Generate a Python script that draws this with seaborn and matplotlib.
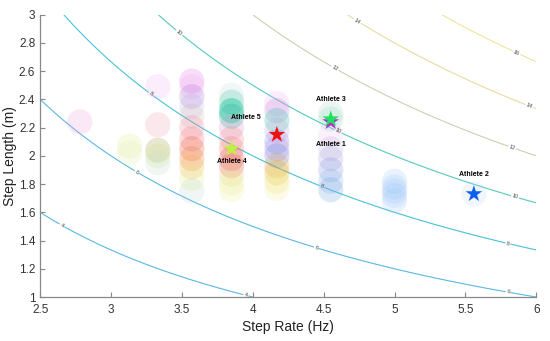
import numpy as np
import pandas as pd
import matplotlib.pyplot as plt
import matplotlib.colors as mcolors
import seaborn as sns

# iso-speed levels (m/s) and their line colours
speed_levels = [4, 6, 8, 10, 12, 14, 16]
level_colors = ['#5ab8e2', '#5ab8e2', '#45c3d8', '#55c9c0', '#c8d2b0', '#e8dba0', '#f2e49c']

# bubble columns: step rate -> step lengths and colours (rgba hex)
step_rates = [2.78, 3.13, 3.33, 3.57, 3.85, 4.17, 4.55, 5.0, 5.56]
step_lengths = [
    [2.24],
    [2.07, 2.02],
    [2.49, 2.22, 2.04, 2.00, 1.95],
    [2.53, 2.49, 2.42, 2.35, 2.28, 2.20, 2.12, 2.05, 1.98, 1.92, 1.84, 1.75],
    [2.43, 2.38, 2.32, 2.28, 2.20, 2.12, 2.05, 1.98, 1.93, 1.87, 1.81, 1.76],
    [2.37, 2.32, 2.25, 2.18, 2.10, 2.05, 2.00, 1.93, 1.88, 1.82, 1.77],
    [2.30, 2.26, 2.15, 2.05, 1.98, 1.90, 1.82, 1.76],
    [1.82, 1.78, 1.75, 1.72, 1.68],
    [1.73],
]
bubble_colors = [
    ['#f0a0e050'],
    ['#e8f0a060', '#e0f0b050'],
    ['#f0a0f040', '#f0a0b050', '#a0a04050', '#d0e08050', '#c0e0d050'],
    ['#e060e045', '#f0a0f040', '#a060d045', '#b0a0e040', '#d0b0a040', '#f080a050',
     '#f0707050', '#f0503055', '#f0803055', '#f0b04050', '#e0f08050', '#b0d0d040'],
    ['#a0d0c835', '#40c0a050', '#00c09080', '#20b0a060', '#e090c050', '#f0808050',
     '#f0707050', '#f0404055', '#e0504050', '#f0c08050', '#e0f08050', '#f0f0a050'],
    ['#f0b0f050', '#c080e050', '#20c0a055', '#c0a0e050', '#8080e050', '#b080e050',
     '#6080e050', '#e0a04050', '#e0b02055', '#f0e06050', '#f0f0a050'],
    ['#b0d8d050', '#60d0a035', '#f0b0f040', '#c0b0e050', '#a0a0e050', '#8090e050',
     '#80b0f050', '#70a8e055'],
    ['#90c0f840', '#90c0f840', '#90c0f840', '#90c0f840', '#90c0f840'],
    ['#b0d0f040'],
]

# athletes (stars)
athletes = ['Athlete 1', 'Athlete 3', 'Athlete 5', 'Athlete 4', 'Athlete 2']
athlete_rate = [4.55, 4.55, 4.17, 3.85, 5.56]
athlete_length = [2.24, 2.26, 2.15, 2.05, 1.73]
athlete_colors = ['#b030d0', '#20e060', '#f01010', '#c0f040', '#1060f0']
label_offsets = [(0, -16), (0, 14), (-22, 12), (0, -9), (0, 14)]

rows = []
for r, ls, cs in zip(step_rates, step_lengths, bubble_colors):
    for l, c in zip(ls, cs):
        rows.append({'rate': r, 'length': l, 'color': c})
bubbles = pd.DataFrame(rows)
stars = pd.DataFrame({'athlete': athletes, 'rate': athlete_rate, 'length': athlete_length})

sns.set_style('white')
plt.rcParams['font.family'] = ['Liberation Sans', 'DejaVu Sans']

fig = plt.figure(figsize=(5.5, 3.41), dpi=100)
ax = fig.add_axes([0.073, 0.129, 0.902, 0.828])

# iso-speed contours: speed = step rate * step length
gx = np.linspace(2.5, 6, 300)
gy = np.linspace(1, 3, 300)
GX, GY = np.meshgrid(gx, gy)
cs = ax.contour(GX, GY, GX * GY, levels=speed_levels, colors=level_colors, linewidths=0.8, zorder=1)
label_pos = [(2.65, 1.5), (3.95, 1.01), (3.18, 1.88), (4.45, 1.35), (5.8, 1.03),
             (3.28, 2.44), (4.49, 1.79), (5.8, 1.38), (3.48, 2.87), (4.6, 2.17),
             (5.85, 1.71), (4.58, 2.62), (5.83, 2.06), (4.74, 2.96), (5.95, 2.35),
             (5.86, 2.73)]
ax.clabel(cs, fmt='%d', fontsize=4, colors='#444444', inline=True, inline_spacing=1, manual=label_pos)

sns.scatterplot(data=bubbles, x='rate', y='length', s=330, linewidth=0, legend=False, ax=ax, zorder=2)
rgba = mcolors.to_rgba_array(bubbles['color'])
rgba[:, 3] *= 0.75
ax.collections[-1].set_facecolor(rgba)

sns.scatterplot(data=stars, x='rate', y='length', hue='athlete',
                palette=dict(zip(athletes, athlete_colors)), marker='*', s=160,
                linewidth=0, legend=False, ax=ax, zorder=3)

for name, r, l, off in zip(athletes, athlete_rate, athlete_length, label_offsets):
    ax.annotate(name, (r, l), xytext=off, textcoords='offset points', ha='center', va='center',
                fontsize=5, fontweight='bold', color='black', zorder=4)

ax.set_xlim(2.5, 6)
ax.set_ylim(1, 3)
ax.set_xticks(np.arange(2.5, 6.01, 0.5))
ax.set_xticklabels(['2.5', '3', '3.5', '4', '4.5', '5', '5.5', '6'])
ax.set_yticks(np.arange(1, 3.01, 0.2))
ax.set_yticklabels(['1', '1.2', '1.4', '1.6', '1.8', '2', '2.2', '2.4', '2.6', '2.8', '3'])
ax.set_xlabel('Step Rate (Hz)', fontsize=10, color='#222222', labelpad=3)
ax.set_ylabel('Step Length (m)', fontsize=10, color='#222222', labelpad=1)
ax.tick_params(direction='in', length=3.5, width=0.8, color='#888888', labelsize=8.5,
               labelcolor='#333333', bottom=True, left=True)
ax.tick_params(axis='x', pad=5)
for side in ['top', 'right']:
    ax.spines[side].set_visible(False)
for side in ['left', 'bottom']:
    ax.spines[side].set_color('#888888')
    ax.spines[side].set_linewidth(0.9)

fig.savefig('out.png', dpi=100)
